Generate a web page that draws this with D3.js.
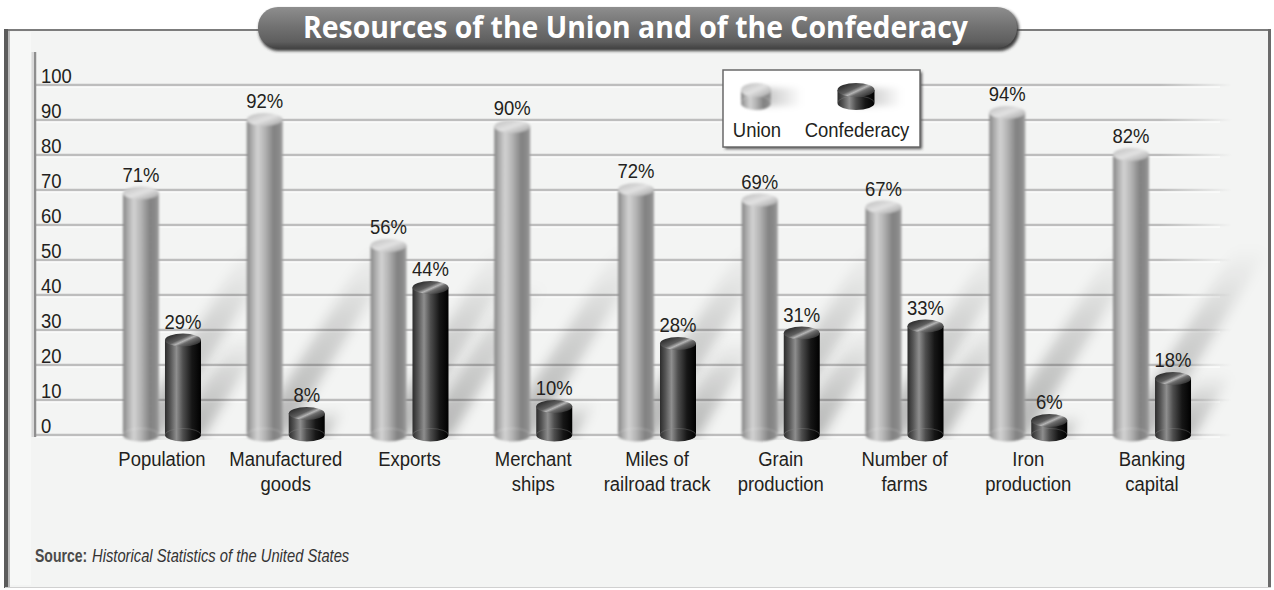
<!DOCTYPE html>
<html>
<head>
<meta charset="utf-8">
<script src="https://cdn.jsdelivr.net/npm/d3@7"></script>
<style>
  html, body { margin: 0; padding: 0; background: #ffffff; }
  svg { display: block; }
  text { font-family: "Liberation Sans", Arial, "DejaVu Sans", sans-serif; }
  text.title { font-family: "Open Sans", "Liberation Sans", sans-serif; }
</style>
</head>
<body>
<svg id="chart" width="1274" height="590"></svg>
<script>
// ---- data ----
const categories = [
  "Population",
  "Manufactured\ngoods",
  "Exports",
  "Merchant\nships",
  "Miles of\nrailroad track",
  "Grain\nproduction",
  "Number of\nfarms",
  "Iron\nproduction",
  "Banking\ncapital"
];
const unionValues       = [71, 92, 56, 90, 72, 69, 67, 94, 82];
const confederacyValues = [29,  8, 44, 10, 28, 31, 33,  6, 18];
const seriesNames = ["Union", "Confederacy"];
const yTicks = [0, 10, 20, 30, 40, 50, 60, 70, 80, 90, 100];
const titleText = "Resources of the Union and of the Confederacy";
const sourceLabel = "Source:";
const sourceText = "Historical Statistics of the United States";

// ---- layout ----
const svg = d3.select("#chart");
const defs = svg.append("defs");
const SX = 0.88;                 // horizontal squeeze giving a condensed face
const squeeze = (px, py, s = SX) => `translate(${px},${py}) scale(${s},1)`;

const x = d3.scaleBand().domain(categories).range([100.1, 1213.9]).padding(0);
const xs = d3.scalePoint().domain(seriesNames).range([-21, 21]);
const y = d3.scaleLinear().domain([0, 100]).range([435, 85]);
const y0 = y(0);
const barW = 36, capR = 6.5;

// ---- gradients and filters ----
function linGrad(id, stops, attrs) {
  const g = defs.append("linearGradient").attr("id", id);
  Object.entries(attrs || {}).forEach(([k, v]) => g.attr(k, v));
  stops.forEach(([o, c, op]) => g.append("stop").attr("offset", o).attr("stop-color", c).attr("stop-opacity", op == null ? 1 : op));
  return g;
}
linGrad("unionBody", [[0, "#858585"], [0.12, "#a8a8a8"], [0.3, "#d2d2d2"], [0.5, "#b4b4b4"], [0.75, "#828282"], [0.9, "#8a8a8a"], [1, "#a2a2a2"]], {x1: 0, y1: 0, x2: 1, y2: 0});
linGrad("unionCap", [[0, "#bcbcbc"], [0.5, "#e2e2e2"], [1, "#a0a0a0"]], {x1: 0, y1: 0, x2: 1, y2: 1});
linGrad("confBody", [[0, "#2c2c2c"], [0.15, "#555555"], [0.32, "#8e8e8e"], [0.5, "#4e4e4e"], [0.75, "#161616"], [1, "#000000"]], {x1: 0, y1: 0, x2: 1, y2: 0});
linGrad("confCap", [[0, "#1c1c1c"], [0.42, "#5e5e5e"], [0.55, "#b4b4b4"], [0.65, "#6c6c6c"], [1, "#1a1a1a"]], {x1: 0, y1: 0.1, x2: 1, y2: 0.9});
linGrad("tabFill", [[0, "#8e8e8e"], [0.45, "#737373"], [0.85, "#5e5e5e"], [1, "#454545"]], {x1: 0, y1: 0, x2: 0, y2: 1});
linGrad("shadowFade", [[0, "#000", 0.26], [0.6, "#000", 0.13], [1, "#000", 0]], {x1: 0, y1: 1, x2: 0, y2: 0});
linGrad("gridFade", [[0, "#bdbdbd"], [0.94, "#bdbdbd"], [1, "#bdbdbd", 0]], {gradientUnits: "userSpaceOnUse", x1: 36, y1: 0, x2: 1232, y2: 0});
linGrad("legendTrail", [[0, "#000", 0.28], [1, "#000", 0]], {x1: 0, y1: 0, x2: 1, y2: 0});

const blur = (id, sd) => defs.append("filter").attr("id", id)
  .attr("x", "-60%").attr("y", "-60%").attr("width", "220%").attr("height", "220%")
  .append("feGaussianBlur").attr("stdDeviation", sd);
blur("shadowBlur", 6);
blur("softBlur", 0.8);
blur("legendBlur", 3);
blur("boxShadow", 1.5);

defs.append("clipPath").attr("id", "wallClip")
  .append("rect").attr("x", 37).attr("y", 60).attr("width", 1230).attr("height", 380);

// ---- panel ----
const panel = svg.append("g");
panel.append("rect").attr("x", 5).attr("y", 30).attr("width", 1265).attr("height", 557).attr("fill", "#f3f4f3");
panel.append("rect").attr("x", 9).attr("y", 32).attr("width", 22).attr("height", 553).attr("fill", "#ffffff").attr("opacity", 0.35);
panel.append("line").attr("x1", 5).attr("x2", 1271).attr("y1", 30).attr("y2", 30).attr("stroke", "#7c7c7c").attr("stroke-width", 2);
panel.append("line").attr("x1", 6).attr("x2", 6).attr("y1", 29).attr("y2", 588).attr("stroke", "#5c5c5c").attr("stroke-width", 4);
panel.append("line").attr("x1", 9).attr("x2", 9).attr("y1", 31).attr("y2", 587).attr("stroke", "#a8a8a8").attr("stroke-width", 1.5);
panel.append("line").attr("x1", 1269.5).attr("x2", 1269.5).attr("y1", 29).attr("y2", 588).attr("stroke", "#6a6a6a").attr("stroke-width", 3);
panel.append("line").attr("x1", 5).attr("x2", 1271).attr("y1", 587.5).attr("y2", 587.5).attr("stroke", "#d0d0d0").attr("stroke-width", 1);

// ---- title tab ----
const tab = svg.append("g");
tab.append("rect").attr("x", 259).attr("y", 9).attr("width", 760).attr("height", 42).attr("rx", 20).attr("fill", "#3c3c3c").attr("filter", "url(#boxShadow)");
tab.append("rect").attr("x", 258).attr("y", 7).attr("width", 759).attr("height", 41).attr("rx", 20).attr("fill", "url(#tabFill)");
tab.append("text").attr("class", "title")
  .attr("x", 635.5).attr("y", 38)
  .attr("text-anchor", "middle")
  .attr("fill", "#ffffff")
  .attr("font-size", 31).attr("font-weight", "bold")
  .attr("textLength", 665).attr("lengthAdjust", "spacingAndGlyphs")
  .text(titleText);

// ---- grid ----
const grid = svg.append("g");
grid.selectAll("line.g").data(yTicks).join("line")
  .attr("x1", 36).attr("x2", 1232)
  .attr("y1", d => y(d)).attr("y2", d => y(d))
  .attr("stroke", "url(#gridFade)").attr("stroke-width", 2.5);
grid.selectAll("line.h").data(yTicks).join("line")
  .attr("x1", 36).attr("x2", 1220)
  .attr("y1", d => y(d) + 2).attr("y2", d => y(d) + 2)
  .attr("stroke", "#ffffff").attr("stroke-width", 1);
grid.append("line").attr("x1", 35).attr("x2", 35).attr("y1", 52).attr("y2", y0 + 2)
  .attr("stroke", "#8e8e8e").attr("stroke-width", 2.5);
grid.append("line").attr("x1", 32.5).attr("x2", 32.5).attr("y1", 52).attr("y2", y0 + 2)
  .attr("stroke", "#d8d8d8").attr("stroke-width", 2);

const yAxis = d3.axisLeft(y).tickValues(yTicks).tickSize(0).tickFormat(d3.format("d"));
const yAxisG = svg.append("g").attr("transform", "translate(41,0)").call(yAxis);
yAxisG.select(".domain").remove();
yAxisG.attr("font-family", null).attr("font-size", null);
yAxisG.selectAll("text")
  .attr("x", 0).attr("dy", null).attr("y", -3)
  .attr("transform", `scale(${SX},1)`)
  .attr("text-anchor", "start")
  .attr("fill", "#231f20").attr("font-size", 21);

// ---- bars ----
const bars = [];
categories.forEach((c, i) => {
  bars.push({cat: c, series: "Union", value: unionValues[i]});
  bars.push({cat: c, series: "Confederacy", value: confederacyValues[i]});
});
const cxOf = d => x(d.cat) + x.bandwidth() / 2 + xs(d.series);

// cast shadows falling up and to the right behind each bar
const shadowG = svg.append("g").attr("clip-path", "url(#wallClip)");
shadowG.selectAll("polygon").data(bars).join("polygon")
  .attr("points", d => {
    const cx = cxOf(d), h = y0 - y(d.value);
    const dy = Math.min(1.0 * h, 190), dx = 0.62 * dy;
    const l = cx - barW / 2 + 6, r = cx + barW / 2 + 2, b = y0 + 2;
    return [[l, b], [r, b], [r + dx, b - dy], [l + dx, b - dy]].map(p => p.join(",")).join(" ");
  })
  .attr("fill", "url(#shadowFade)")
  .attr("filter", "url(#shadowBlur)");

function cylinder(g, cx, top, base, w, ry, kind) {
  const l = cx - w / 2, r = cx + w / 2;
  g.append("path")
    .attr("d", `M${l},${top + ry} L${l},${base} A${w / 2},${ry} 0 0 0 ${r},${base} L${r},${top + ry} Z`)
    .attr("fill", kind === "Union" ? "url(#unionBody)" : "url(#confBody)");
  g.append("path")
    .attr("d", `M${l},${base} A${w / 2},${ry} 0 0 1 ${r},${base}`)
    .attr("fill", "none")
    .attr("stroke", kind === "Union" ? "#ffffff" : "#8a8a8a")
    .attr("stroke-opacity", kind === "Union" ? 0.25 : 0.35)
    .attr("stroke-width", 1);
  g.append("ellipse")
    .attr("cx", cx).attr("cy", top + ry).attr("rx", w / 2).attr("ry", ry)
    .attr("fill", kind === "Union" ? "url(#unionCap)" : "url(#confCap)");
}

const barG = svg.append("g");
bars.forEach(d => {
  const g = barG.append("g");
  if (d.series === "Union") g.attr("filter", "url(#softBlur)");
  cylinder(g, cxOf(d), y(d.value), y0, barW, capR, d.series);
});

// value labels
svg.append("g").selectAll("text").data(bars).join("text")
  .attr("transform", d => squeeze(cxOf(d), y(d.value) - 5))
  .attr("text-anchor", "middle")
  .attr("fill", "#231f20").attr("font-size", 21)
  .text(d => d.value + "%");

// category labels, one text element per line
const catLines = categories.flatMap(c => c.split("\n").map((line, j) => ({c, line, j})));
svg.append("g").selectAll("text").data(catLines).join("text")
  .attr("transform", d => squeeze(x(d.c) + x.bandwidth() / 2, 466 + 25 * d.j))
  .attr("text-anchor", "middle")
  .attr("fill", "#231f20").attr("font-size", 21)
  .text(d => d.line);

// ---- legend ----
const lg = svg.append("g");
lg.append("rect").attr("x", 725).attr("y", 72).attr("width", 197).attr("height", 77).attr("fill", "#555").attr("filter", "url(#boxShadow)");
lg.append("rect").attr("x", 723).attr("y", 70).attr("width", 197).attr("height", 77)
  .attr("fill", "#ffffff").attr("stroke", "#6a6a6a").attr("stroke-width", 1.5);
const legendItems = [
  {name: seriesNames[0], cx: 756, w: 30},
  {name: seriesNames[1], cx: 856, w: 37}
];
legendItems.forEach(it => {
  lg.append("rect")
    .attr("x", it.cx).attr("y", 88).attr("width", 46).attr("height", 18)
    .attr("fill", "url(#legendTrail)").attr("filter", "url(#legendBlur)");
  const g = lg.append("g");
  if (it.name === "Union") g.attr("filter", "url(#softBlur)");
  cylinder(g, it.cx, 83, 103, it.w, 7, it.name);
  lg.append("text")
    .attr("transform", squeeze(it.cx + 1, 137))
    .attr("text-anchor", "middle")
    .attr("fill", "#231f20").attr("font-size", 21)
    .text(it.name);
});

// ---- source note ----
svg.append("text").attr("transform", squeeze(35, 562, 0.78)).attr("font-size", 18)
  .attr("font-weight", "bold").attr("fill", "#4a4a4a")
  .text(sourceLabel);
svg.append("text").attr("transform", squeeze(92, 562, 0.82)).attr("font-size", 18)
  .attr("font-style", "italic").attr("fill", "#333")
  .text(sourceText);
</script>
</body>
</html>
